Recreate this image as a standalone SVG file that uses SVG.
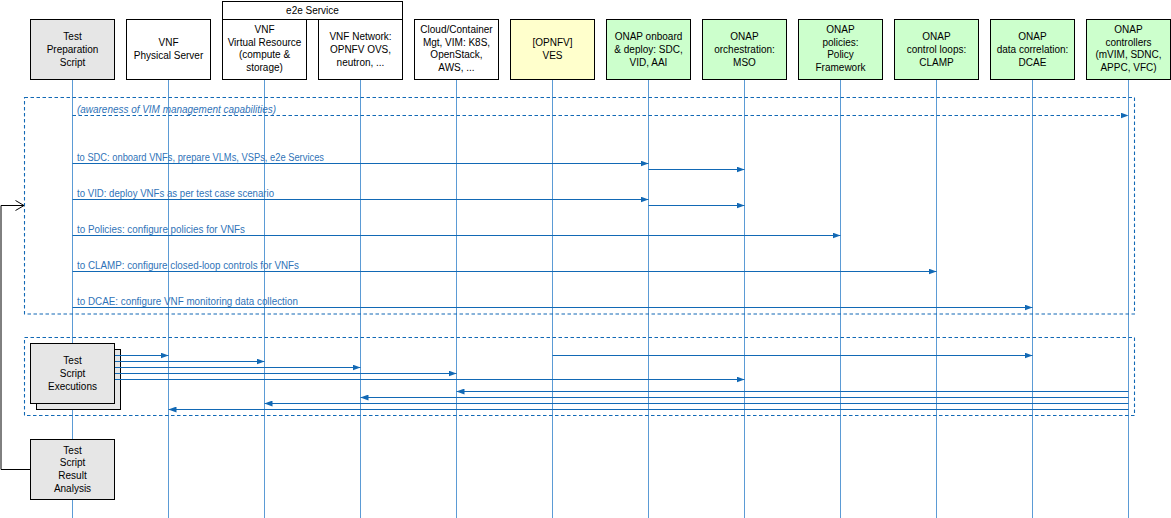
<svg xmlns="http://www.w3.org/2000/svg" width="1171" height="518" viewBox="0 0 1171 518">
<defs>
<marker id="ah" markerWidth="8" markerHeight="6" refX="8" refY="3" orient="auto" markerUnits="userSpaceOnUse"><path d="M0,0 L8,3 L0,6 z" fill="#1269B5"/></marker>
<style>
.box{stroke:#000;stroke-width:1}
.gray{fill:#E6E6E6}
.white{fill:#FFFFFF}
.yellow{fill:#FFFFCC}
.green{fill:#CCFFCC}
.t{font-family:"Liberation Sans",Arial,sans-serif;font-size:10px;fill:#000;text-anchor:middle}
.life{stroke:#5B9BD5;stroke-width:1;fill:none}
.msg{stroke:#1269B5;stroke-width:1.1;fill:none;marker-end:url(#ah)}
.dmsg{stroke:#1269B5;stroke-width:1.1;fill:none;stroke-dasharray:3.5 2.5;marker-end:url(#ah)}
.lbl{font-family:"Liberation Sans",Arial,sans-serif;font-size:10px;fill:#2F73B8}
.frame{fill:none;stroke:#1269B5;stroke-width:1.1;stroke-dasharray:3.5 2.5}
</style>
</defs>
<rect width="1171" height="518" fill="#FFFFFF"/>

<g id="lifelines">
<path class="life" d="M72.5,79 V518 M168.5,79 V518 M264.5,79 V518 M360.5,79 V518 M456.5,79 V518 M552.5,79 V518 M648.5,79 V518 M744.5,79 V518 M840.5,79 V518 M936.5,79 V518 M1032.5,79 V518 M1128.5,79 V518"/>
</g>

<g id="frames">
<rect class="frame" x="24.5" y="97.5" width="1110" height="216.5"/>
<rect class="frame" x="24.5" y="337.5" width="1110" height="78"/>
</g>

<g id="e2e-service">
<rect class="box white" x="222.5" y="1.5" width="180" height="18"/>
<text class="t" x="312.5" y="13.5">e2e Service</text>
</g>

<g id="test-preparation-script">
<rect class="box gray" x="30.5" y="19.5" width="84" height="60"/>
<text class="t" x="72.5" y="39.5">Test</text>
<text class="t" x="72.5" y="52.5">Preparation</text>
<text class="t" x="72.5" y="65.5">Script</text>
</g>

<g id="vnf-physical-server">
<rect class="box white" x="126.5" y="19.5" width="84" height="60"/>
<text class="t" x="168.5" y="46.3">VNF</text>
<text class="t" x="168.5" y="59">Physical Server</text>
</g>

<g id="vnf-virtual-resource">
<rect class="box white" x="222.5" y="19.5" width="84" height="60"/>
<text class="t" x="264.5" y="33">VNF</text>
<text class="t" x="264.5" y="45.6">Virtual Resource</text>
<text class="t" x="264.5" y="58.2">(compute &amp;</text>
<text class="t" x="264.5" y="70.8">storage)</text>
</g>

<g id="vnf-network">
<rect class="box white" x="318.5" y="19.5" width="84" height="60"/>
<text class="t" x="360.5" y="39.5">VNF Network:</text>
<text class="t" x="360.5" y="52.5">OPNFV OVS,</text>
<text class="t" x="360.5" y="65.5">neutron, ...</text>
</g>

<g id="cloud-container-mgt">
<rect class="box white" x="414.5" y="19.5" width="84" height="60"/>
<text class="t" x="456.5" y="33">Cloud/Container</text>
<text class="t" x="456.5" y="45.6">Mgt, VIM: K8S,</text>
<text class="t" x="456.5" y="58.2">OpenStack,</text>
<text class="t" x="456.5" y="70.8">AWS, ...</text>
</g>

<g id="opnfv-ves">
<rect class="box yellow" x="510.5" y="19.5" width="84" height="60"/>
<text class="t" x="552.5" y="46.3">[OPNFV]</text>
<text class="t" x="552.5" y="59">VES</text>
</g>

<g id="onap-onboard-deploy">
<rect class="box green" x="606.5" y="19.5" width="84" height="60"/>
<text class="t" x="648.5" y="39.5">ONAP onboard</text>
<text class="t" x="648.5" y="52.5">&amp; deploy: SDC,</text>
<text class="t" x="648.5" y="65.5">VID, AAI</text>
</g>

<g id="onap-orchestration">
<rect class="box green" x="702.5" y="19.5" width="84" height="60"/>
<text class="t" x="744.5" y="39.5">ONAP</text>
<text class="t" x="744.5" y="52.5">orchestration:</text>
<text class="t" x="744.5" y="65.5">MSO</text>
</g>

<g id="onap-policies">
<rect class="box green" x="798.5" y="19.5" width="84" height="60"/>
<text class="t" x="840.5" y="33">ONAP</text>
<text class="t" x="840.5" y="45.6">policies:</text>
<text class="t" x="840.5" y="58.2">Policy</text>
<text class="t" x="840.5" y="70.8">Framework</text>
</g>

<g id="onap-control-loops">
<rect class="box green" x="894.5" y="19.5" width="84" height="60"/>
<text class="t" x="936.5" y="39.5">ONAP</text>
<text class="t" x="936.5" y="52.5">control loops:</text>
<text class="t" x="936.5" y="65.5">CLAMP</text>
</g>

<g id="onap-data-correlation">
<rect class="box green" x="990.5" y="19.5" width="84" height="60"/>
<text class="t" x="1032.5" y="39.5">ONAP</text>
<text class="t" x="1032.5" y="52.5">data correlation:</text>
<text class="t" x="1032.5" y="65.5">DCAE</text>
</g>

<g id="onap-controllers">
<rect class="box green" x="1086.5" y="19.5" width="84" height="60"/>
<text class="t" x="1128.5" y="33">ONAP</text>
<text class="t" x="1128.5" y="45.6">controllers</text>
<text class="t" x="1128.5" y="58.2">(mVIM, SDNC,</text>
<text class="t" x="1128.5" y="70.8">APPC, VFC)</text>
</g>

<g id="test-script-executions">
<rect class="box gray" x="36.5" y="349.5" width="84" height="60"/>
<rect class="box gray" x="30.5" y="343.5" width="84" height="60"/>
<text class="t" x="72.5" y="364">Test</text>
<text class="t" x="72.5" y="377">Script</text>
<text class="t" x="72.5" y="390">Executions</text>
</g>

<g id="test-script-result-analysis">
<rect class="box gray" x="30.5" y="439.5" width="84" height="60"/>
<text class="t" x="72.5" y="453.5">Test</text>
<text class="t" x="72.5" y="466.3">Script</text>
<text class="t" x="72.5" y="479">Result</text>
<text class="t" x="72.5" y="491.7">Analysis</text>
</g>

<g id="connectors">
<path class="dmsg" d="M72.5,115.5 H1128.5"/>
<text class="lbl" x="77" y="112.8" font-style="italic" textLength="199" lengthAdjust="spacingAndGlyphs">(awareness of VIM management capabilities)</text>

<path class="msg" d="M72.5,163.5 H648.5"/>
<text class="lbl" x="77" y="160.8" textLength="247" lengthAdjust="spacingAndGlyphs">to SDC: onboard VNFs, prepare VLMs, VSPs, e2e Services</text>
<path class="msg" d="M648.5,169.5 H744.5"/>

<path class="msg" d="M72.5,199.5 H648.5"/>
<text class="lbl" x="77" y="196.8" textLength="197" lengthAdjust="spacingAndGlyphs">to VID: deploy VNFs as per test case scenario</text>
<path class="msg" d="M648.5,205.5 H744.5"/>

<path class="msg" d="M72.5,235.5 H840.5"/>
<text class="lbl" x="77" y="232.8" textLength="168" lengthAdjust="spacingAndGlyphs">to Policies: configure policies for VNFs</text>

<path class="msg" d="M72.5,271.5 H936.5"/>
<text class="lbl" x="77" y="268.8" textLength="222" lengthAdjust="spacingAndGlyphs">to CLAMP: configure closed-loop controls for VNFs</text>

<path class="msg" d="M72.5,307.5 H1032.5"/>
<text class="lbl" x="77" y="304.8" textLength="221" lengthAdjust="spacingAndGlyphs">to DCAE: configure VNF monitoring data collection</text>

<path class="msg" d="M115,355.5 H168.5"/>
<path class="msg" d="M115,361.5 H264.5"/>
<path class="msg" d="M115,367.5 H360.5"/>
<path class="msg" d="M115,373.5 H456.5"/>
<path class="msg" d="M115,379.5 H744.5"/>
<path class="msg" d="M552.5,355.5 H1032.5"/>

<path class="msg" d="M1128.5,391.5 H456.5"/>
<path class="msg" d="M1128.5,397.5 H360.5"/>
<path class="msg" d="M1128.5,403.5 H264.5"/>
<path class="msg" d="M1128.5,409.5 H168.5"/>

<path d="M30.5,469.5 H1 V205.5 H24" fill="none" stroke="#000" stroke-width="1"/>
<polyline points="15.5,200.5 24,205.5 15.5,210.5" fill="none" stroke="#000" stroke-width="1"/>
</g>
</svg>
